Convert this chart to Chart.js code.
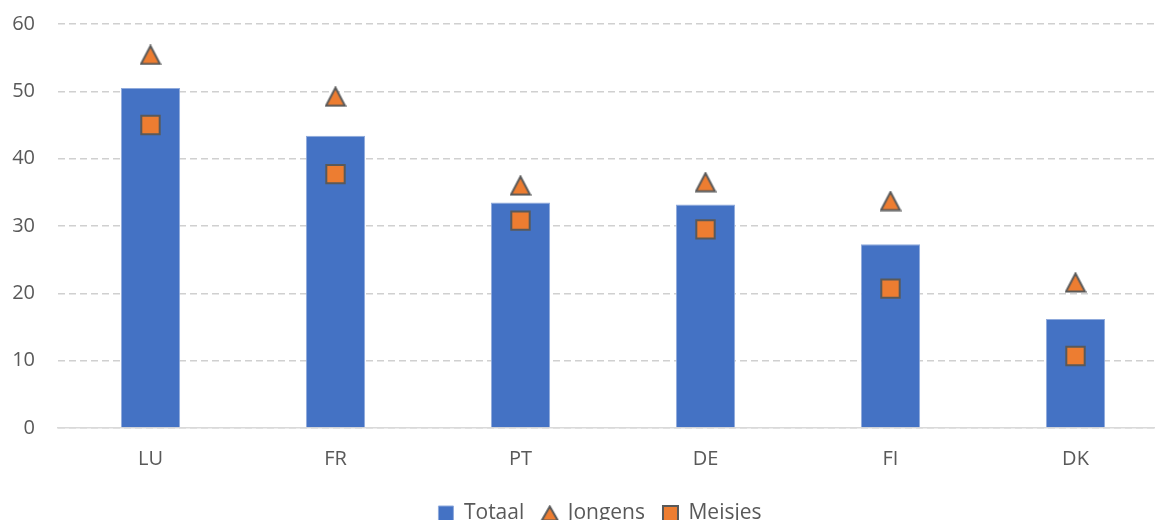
<!DOCTYPE html>
<html>
<head>
<meta charset="utf-8">
<script src="https://cdn.jsdelivr.net/npm/chart.js@4"></script>
<style>
  html, body { margin: 0; padding: 0; background: #fff; overflow: hidden; }
  #wrap { position: relative; width: 1200px; height: 534px; }
</style>
</head>
<body>
<div id="wrap"><canvas id="chart"></canvas></div>
<script>
const countries = ['LU', 'FR', 'PT', 'DE', 'FI', 'DK'];
const totaal = [50.5, 43.4, 33.5, 33.2, 27.3, 16.2];
const jongens = [55.4, 49.2, 36.0, 36.5, 33.7, 21.6];
const meisjes = [45.0, 37.7, 30.8, 29.5, 20.7, 10.7];
const yTicks = [0, 10, 20, 30, 40, 50, 60];

const grey = '#595959';
const orange = '#ED7D31';

// triangle marker as a small canvas, so it is centred on its box like in Excel
function makeTriangle(w, h) {
    const c = document.createElement('canvas');
    c.width = w;
    c.height = h;
    const ctx = c.getContext('2d');
    ctx.beginPath();
    ctx.moveTo(w / 2, 1.5);
    ctx.lineTo(w - 1.5, h - 1.5);
    ctx.lineTo(1.5, h - 1.5);
    ctx.closePath();
    ctx.fillStyle = orange;
    ctx.fill();
    ctx.lineWidth = 2;
    ctx.strokeStyle = grey;
    ctx.stroke();
    return c;
}
const triMarker = makeTriangle(22, 21);
const triLegend = makeTriangle(19, 17);

// the original legend is centred on the full (wider) chart, not on the padded area
const legendShift = {
    id: 'legendShift',
    afterLayout(chart) {
        chart.legend.left += 16;
        chart.legend.right += 16;
    }
};

new Chart(document.getElementById('chart'), {
    type: 'bar',
    data: {
        labels: countries,
        datasets: [
            {
                label: 'Totaal',
                data: totaal,
                backgroundColor: '#4472C4',
                borderColor: '#8FAADC',
                borderWidth: 1,
                categoryPercentage: 1,
                barPercentage: 0.32,
                pointStyle: 'rect',
                order: 2
            },
            {
                type: 'line',
                label: 'Jongens',
                data: jongens,
                showLine: false,
                pointStyle: triMarker,
                pointRadius: 11,
                backgroundColor: orange,
                borderColor: grey,
                borderWidth: 2,
                order: 1
            },
            {
                type: 'line',
                label: 'Meisjes',
                data: meisjes,
                showLine: false,
                pointStyle: 'rect',
                pointRadius: 13,
                pointBackgroundColor: orange,
                pointBorderColor: grey,
                pointBorderWidth: 2,
                backgroundColor: orange,
                borderColor: grey,
                borderWidth: 2,
                order: 0
            }
        ]
    },
    options: {
        responsive: true,
        maintainAspectRatio: false,
        animation: false,
        layout: { autoPadding: false, padding: { top: 24, right: 32, left: 0, bottom: 0 } },
        scales: {
            x: {
                grid: { display: false, drawTicks: false },
                border: { display: true, color: '#D9D9D9', width: 1.5 },
                ticks: { color: grey, padding: 19, font: { family: 'Open Sans', size: 20 } },
                afterFit: scale => { scale.height = 57; }
            },
            y: {
                min: 0,
                max: 60,
                afterBuildTicks: scale => { scale.ticks = yTicks.map(v => ({ value: v })); },
                grid: { color: '#D0D0D0', lineWidth: 1.4, drawTicks: false },
                border: { display: false, dash: [7, 4] },
                ticks: { color: grey, padding: 23, font: { family: 'Open Sans', size: 20 } },
                afterFit: scale => {
                    scale.width = 58;
                    scale.paddingTop = 0;
                    scale.paddingBottom = 0;
                }
            }
        },
        plugins: {
            legend: {
                position: 'bottom',
                labels: {
                    usePointStyle: true,
                    boxWidth: 15,
                    boxHeight: 15,
                    padding: 18,
                    color: grey,
                    font: { family: 'Open Sans', size: 21 },
                    sort: (a, b) => a.datasetIndex - b.datasetIndex,
                    generateLabels: chart => {
                        const items = Chart.defaults.plugins.legend.labels.generateLabels(chart);
                        items.forEach(it => {
                            if (it.text === 'Jongens') it.pointStyle = triLegend;
                        });
                        return items;
                    }
                }
            },
            tooltip: { enabled: false }
        }
    },
    plugins: [legendShift]
});
</script>
</body>
</html>
